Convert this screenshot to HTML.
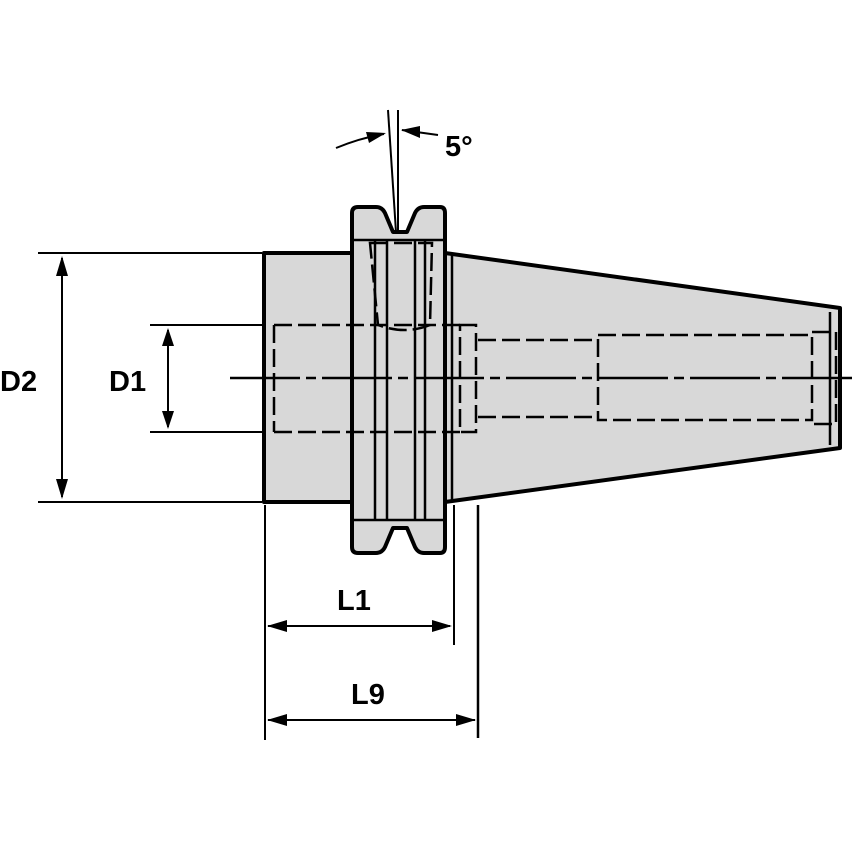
<!DOCTYPE html>
<html><head><style>body{margin:0;background:#fff}svg{display:block}</style></head><body>
<svg width="854" height="854" viewBox="0 0 854 854" xmlns="http://www.w3.org/2000/svg" font-family="Liberation Sans, sans-serif">
<g fill="#d8d8d8" stroke="#000" stroke-width="4" stroke-linejoin="round">
<rect x="264" y="253" width="90" height="249"/>
<path d="M445 253 L840 308 L840 448 L445 502 Z"/>
<path d="M352 213 Q352 207 358 207 L376 207 Q382 207 385 213 L393 232 L407 232 L415 213 Q418 207 424 207 L440 207 Q445 207 445 213 L445 547 Q445 553 440 553 L424 553 Q418 553 415 547 L407 528 L393 528 L385 547 Q382 553 376 553 L358 553 Q352 553 352 547 Z"/>
</g>
<g stroke="#000" stroke-width="2.5" fill="none">
<line x1="375" y1="240" x2="375" y2="520"/>
<line x1="387" y1="240" x2="387" y2="520"/>
<line x1="415" y1="240" x2="415" y2="520"/>
<line x1="425" y1="240" x2="425" y2="520"/>
<line x1="452" y1="255" x2="452" y2="500"/>
<line x1="478" y1="505" x2="478" y2="738"/>
<line x1="352" y1="240" x2="445" y2="240"/>
<line x1="352" y1="520" x2="445" y2="520"/>
<line x1="840" y1="312" x2="840" y2="445"/>
<line x1="830" y1="312" x2="830" y2="445"/>
</g>
<g stroke="#000" stroke-width="2.5" fill="none" stroke-dasharray="18,6">
<line x1="274" y1="325" x2="464" y2="325"/>
<line x1="274" y1="432" x2="464" y2="432"/>
<line x1="274" y1="325" x2="274" y2="432"/>
<path d="M460 325 H476 V432 H460 Z"/>
<line x1="478" y1="340" x2="598" y2="340"/>
<line x1="478" y1="417" x2="598" y2="417"/>
<path d="M598 335 H812 V420 H598 Z"/>
<path d="M812 332 H836 V424 H812"/>
<path d="M370 243 L432 243 L430 325 Q405 335 378 325 Z"/>
<line x1="230" y1="378" x2="854" y2="378" stroke-dasharray="70,6,10,6"/>
</g>
<g stroke="#000" stroke-width="2">
<line x1="398" y1="110" x2="398" y2="232"/>
<line x1="388" y1="110" x2="396" y2="232"/>
<line x1="38" y1="253" x2="262" y2="253"/>
<line x1="38" y1="502" x2="262" y2="502"/>
<line x1="150" y1="325" x2="264" y2="325"/>
<line x1="150" y1="432" x2="264" y2="432"/>
<line x1="62" y1="258" x2="62" y2="497"/>
<line x1="168" y1="330" x2="168" y2="427"/>
<line x1="265" y1="505" x2="265" y2="740"/>
<line x1="454" y1="505" x2="454" y2="645"/>
<line x1="268" y1="626" x2="450" y2="626"/>
<line x1="268" y1="720" x2="475" y2="720"/>
<path d="M336 148 Q360 138 384 134" fill="none"/>
<line x1="402" y1="130" x2="438" y2="135"/>
</g>
<g fill="#000">
<path d="M62 256 L56 276 L68 276 Z"/><path d="M62 499 L56 479 L68 479 Z"/>
<path d="M168 328 L162 346 L174 346 Z"/><path d="M168 429 L162 411 L174 411 Z"/>
<path d="M267 626 L287 620 L287 632 Z"/><path d="M452 626 L432 620 L432 632 Z"/>
<path d="M267 720 L287 714 L287 726 Z"/><path d="M476 720 L456 714 L456 726 Z"/>
<path d="M386 133 L366 132 L369 143 Z"/><path d="M401 130 L420 126 L420 138 Z"/>
</g>
<g font-size="29" font-weight="bold" fill="#000">
<text x="0" y="391">D2</text>
<text x="109" y="391">D1</text>
<text x="337" y="610">L1</text>
<text x="351" y="704">L9</text>
<text x="445" y="156">5°</text>
</g>
</svg>
</body></html>
